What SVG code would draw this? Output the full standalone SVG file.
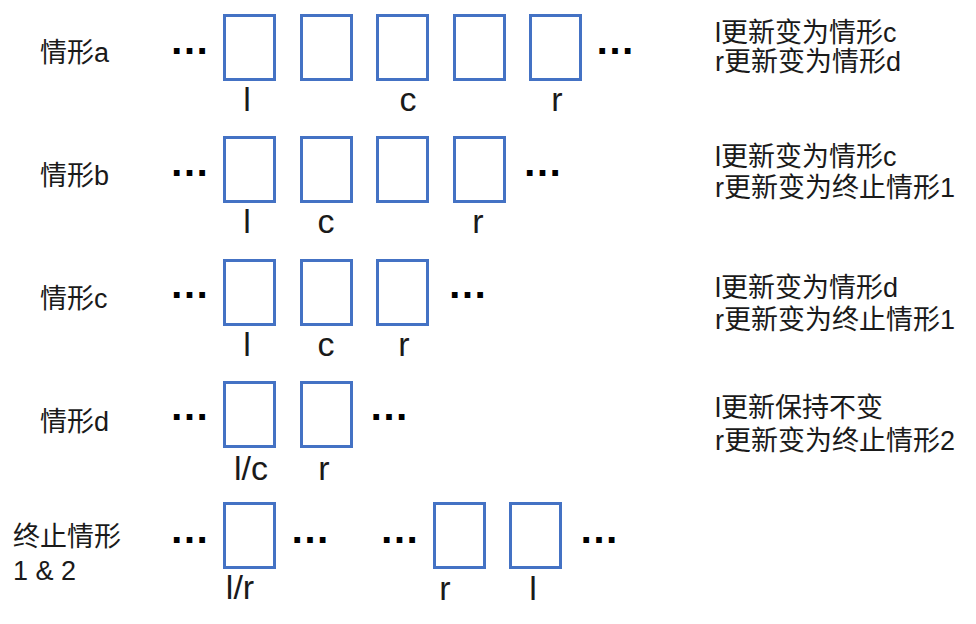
<svg xmlns="http://www.w3.org/2000/svg" width="976" height="624" viewBox="0 0 976 624">
<style>
text{font-family:"Liberation Sans","Noto Sans CJK SC",sans-serif;fill:#1a1a1a}
.cell{fill:none;stroke:#4472C4;stroke-width:3}
.lbl{font-size:34px;text-anchor:middle}
.dots{font-size:40px;font-weight:bold;text-anchor:middle;fill:#000}
.name{font-size:27px}
.note{font-size:27px}
</style>
<rect width="976" height="624" fill="#fff"/>
<g id="connectors"/>

<g id="row-a">
  <text class="name" x="40" y="62">情形a</text>
  <text class="dots" x="189.5" y="54">…</text>
  <g id="a-box1"><rect class="cell" x="224.5" y="15.5" width="50" height="64"/><text class="lbl" x="247" y="111">l</text></g>
  <g id="a-box2"><rect class="cell" x="301.5" y="15.5" width="50" height="64"/></g>
  <g id="a-box3"><rect class="cell" x="377.5" y="15.5" width="50" height="64"/><text class="lbl" x="408" y="111">c</text></g>
  <g id="a-box4"><rect class="cell" x="454.5" y="15.5" width="50" height="64"/></g>
  <g id="a-box5"><rect class="cell" x="530.5" y="15.5" width="50" height="64"/><text class="lbl" x="557" y="111">r</text></g>
  <text class="dots" x="615" y="54">…</text>
  <g id="a-note"><text class="note" x="715" y="42">l更新变为情形c</text><text class="note" x="715" y="71">r更新变为情形d</text></g>
</g>

<g id="row-b">
  <text class="name" x="40" y="185">情形b</text>
  <text class="dots" x="189.5" y="176">…</text>
  <g id="b-box1"><rect class="cell" x="224.5" y="137.5" width="50" height="64"/><text class="lbl" x="247" y="233">l</text></g>
  <g id="b-box2"><rect class="cell" x="301.5" y="137.5" width="50" height="64"/><text class="lbl" x="326" y="233">c</text></g>
  <g id="b-box3"><rect class="cell" x="377.5" y="137.5" width="50" height="64"/></g>
  <g id="b-box4"><rect class="cell" x="454.5" y="137.5" width="50" height="64"/><text class="lbl" x="478" y="233">r</text></g>
  <text class="dots" x="542.5" y="176">…</text>
  <g id="b-note"><text class="note" x="715" y="166">l更新变为情形c</text><text class="note" x="715" y="197">r更新变为终止情形1</text></g>
</g>

<g id="row-c">
  <text class="name" x="40" y="308">情形c</text>
  <text class="dots" x="189.5" y="298">…</text>
  <g id="c-box1"><rect class="cell" x="224.5" y="260.5" width="50" height="64"/><text class="lbl" x="247" y="356">l</text></g>
  <g id="c-box2"><rect class="cell" x="301.5" y="260.5" width="50" height="64"/><text class="lbl" x="326" y="356">c</text></g>
  <g id="c-box3"><rect class="cell" x="377.5" y="260.5" width="50" height="64"/><text class="lbl" x="404" y="356">r</text></g>
  <text class="dots" x="467.5" y="298">…</text>
  <g id="c-note"><text class="note" x="715" y="297">l更新变为情形d</text><text class="note" x="715" y="329">r更新变为终止情形1</text></g>
</g>

<g id="row-d">
  <text class="name" x="40" y="431">情形d</text>
  <text class="dots" x="189.5" y="420">…</text>
  <g id="d-box1"><rect class="cell" x="224.5" y="382.5" width="50" height="64"/><text class="lbl" x="251" y="480">l/c</text></g>
  <g id="d-box2"><rect class="cell" x="301.5" y="382.5" width="50" height="64"/><text class="lbl" x="324" y="480">r</text></g>
  <text class="dots" x="389" y="420">…</text>
  <g id="d-note"><text class="note" x="715" y="417">l更新保持不变</text><text class="note" x="715" y="450">r更新变为终止情形2</text></g>
</g>

<g id="row-e">
  <text class="name" x="13" y="546">终止情形</text>
  <text class="name" x="13" y="580">1 &amp; 2</text>
  <text class="dots" x="189.5" y="543">…</text>
  <g id="e-box1"><rect class="cell" x="224.5" y="503.5" width="50" height="64"/><text class="lbl" x="240" y="599">l/r</text></g>
  <text class="dots" x="310" y="543">…</text>
  <text class="dots" x="399.5" y="543">…</text>
  <g id="e-box2"><rect class="cell" x="434.5" y="503.5" width="50" height="64"/><text class="lbl" x="445" y="600">r</text></g>
  <g id="e-box3"><rect class="cell" x="510.5" y="503.5" width="50" height="64"/><text class="lbl" x="533" y="600">l</text></g>
  <text class="dots" x="599" y="543">…</text>
</g>
</svg>
